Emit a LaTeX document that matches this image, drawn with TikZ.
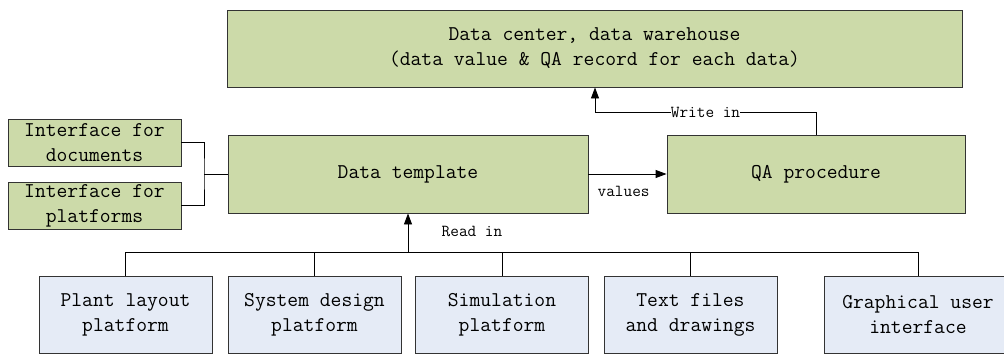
\documentclass[tikz,border=0pt]{standalone}
\usepackage{fontspec}
\usetikzlibrary{arrows.meta}
\definecolor{boxgreen}{RGB}{204,218,169}
\definecolor{boxblue}{RGB}{229,235,246}
\begin{document}
\begin{tikzpicture}[x=1pt,y=-1pt,
  box/.style={draw=black!80, line width=0.9pt, inner sep=0pt, align=center,
              font=\ttfamily\fontsize{21}{25}\selectfont},
  greenbox/.style={box, fill=boxgreen},
  bluebox/.style={box, fill=boxblue, minimum width=173pt, minimum height=77pt},
  link/.style={draw=black, line width=0.9pt},
  arr/.style={link, -{Triangle[length=11pt,width=8pt]}},
  lbl/.style={font=\ttfamily\fontsize{16.8}{20}\selectfont, inner sep=1pt}]
\useasboundingbox (0,0) rectangle (1004,354);

% storage at the top
\node[greenbox, minimum width=735pt, minimum height=77pt] (dc) at (594.5,48.5)
  {Data center, data warehouse\\(data value \& QA record for each data)};

% interfaces on the left
\node[greenbox, minimum width=173pt, minimum height=47pt] (idoc) at (94.5,142.5)
  {Interface for\\documents};
\node[greenbox, minimum width=173pt, minimum height=47pt] (iplat) at (94.5,205.5)
  {Interface for\\platforms};

% template and QA procedure
\node[greenbox, minimum width=360pt, minimum height=78pt] (tmpl) at (408,174) {Data template};
\node[greenbox, minimum width=298pt, minimum height=78pt] (qa) at (816,174) {QA procedure};

% sources at the bottom
\node[bluebox] (b1) at (125.5,314.5) {Plant layout\\platform};
\node[bluebox] (b2) at (314.5,314.5) {System design\\platform};
\node[bluebox] (b3) at (502,314.5) {Simulation\\platform};
\node[bluebox] (b4) at (690.5,314.5) {Text files\\and drawings};
\node[bluebox, minimum width=188pt] (b5) at (918,314.5) {Graphical user\\interface};

% interfaces joined into the template
\coordinate (join) at (204,174);
\draw[link] (idoc.east) -| (join) |- (iplat.east);
\draw[link] (join) -- (tmpl.west);

% template to QA
\draw[arr] (tmpl.east) -- (qa.west)
  node[lbl, pos=0.45, yshift=-17pt] {values};

% QA result written back into storage
\coordinate (wbend) at (595,112);
\draw[arr] (qa.north) -- (qa.north |- wbend)
  -- node[lbl, fill=white, inner xsep=0pt] {Write in} (wbend) -- (wbend |- dc.south);

% bus from the sources
\coordinate (busL) at (125.5,252);
\coordinate (busR) at (918,252);
\coordinate (busUp) at (408,252);
\draw[link] (b1.north) -- (b1.north |- busL) -- (busR) -- (b5.north -| busR);
\draw[link] (b2.north) -- (b2.north |- busL);
\draw[link] (b3.north) -- (b3.north |- busL);
\draw[link] (b4.north) -- (b4.north |- busL);
\draw[arr] (busUp) -- (tmpl.south);
\node[lbl] (readin) at (472,231) {Read in};
\end{tikzpicture}
\end{document}
